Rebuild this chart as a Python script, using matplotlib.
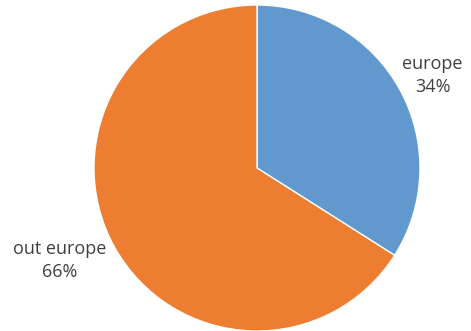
import numpy as np
import matplotlib.pyplot as plt

labels = ['europe', 'out europe']
values = [34, 66]
colors = ['#6199cf', '#ed7d31']
# label placement factors (x, y) along each wedge's mid-angle
label_dist = [(1.23, 1.18), (1.38, 1.18)]

fig = plt.figure(figsize=(4.71, 3.31), dpi=100)
ax = fig.add_axes([94 / 471, 0 / 331, 326 / 471, 326 / 331])

wedges, _ = ax.pie(values, colors=colors, startangle=90, counterclock=False,
                   wedgeprops=dict(edgecolor='white', linewidth=1.0))

for w, lab, v, (dx, dy) in zip(wedges, labels, values, label_dist):
    ang = np.deg2rad((w.theta1 + w.theta2) / 2)
    x, y = dx * np.cos(ang), dy * np.sin(ang)
    ax.text(x, y, f'{lab}\n{v}%', ha='center', va='center', fontsize=13,
            family='Open Sans', color='#404040', linespacing=1.35)

ax.set_xlim(-1, 1)
ax.set_ylim(-1, 1)
ax.set_aspect('equal')
fig.savefig('out.png', dpi=100)
